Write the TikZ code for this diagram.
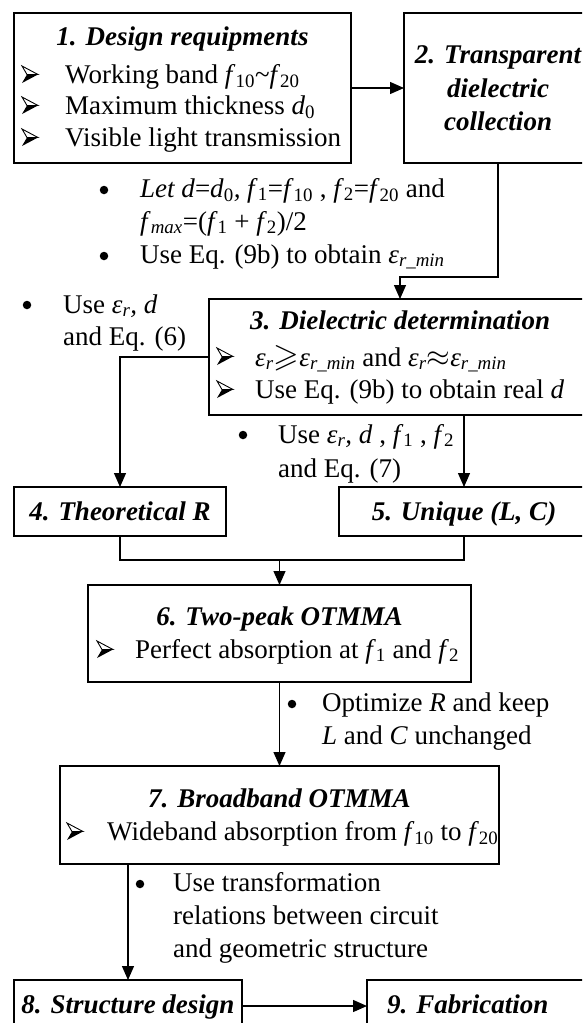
\documentclass[tikz,border=0pt]{standalone}
\usepackage{amssymb}
\usepackage{fontspec}
\setmainfont{Liberation Serif}
\usetikzlibrary{arrows.meta,calc}
\newcommand{\fsub}[1]{\textit{f}\textsubscript{#1}}
\newcommand{\epsr}{\textit{ε}\textsubscript{\textit{r}}}
\newcommand{\epsmin}{\textit{ε}\textsubscript{\textit{r\_min}}}
\newcommand{\bigrel}[1]{\smash{\scalebox{1.22}{$#1$}}}
\begin{document}
\begin{tikzpicture}[x=1pt,y=-1pt,
  font=\fontsize{27}{31}\selectfont,
  box/.style={draw, line width=1.5pt, inner sep=0pt, outer sep=0pt},
  txt/.style={inner sep=0pt, anchor=base west},
  ttl/.style={inner sep=0pt, anchor=base, font=\fontsize{27}{31}\selectfont\bfseries\itshape},
  bul/.style={circle, fill, inner sep=0pt, minimum size=8.5pt},
  amk/.pic={
    \draw[line width=0.9pt, line join=miter] (0,-17) -- (16,-8.5) -- (5,-8.5) -- cycle;
    \fill[line join=miter] (5,-8.5) -- (16,-8.5) -- (0,0) -- cycle;},
  conn/.style={line width=1.3pt},
  arr/.style={conn, -{Triangle[length=14pt,width=12pt]}}]
\useasboundingbox (0,0) rectangle (582,1023);
\clip (0,0) rectangle (582,1023);
% boxes
\node[box, minimum width=337pt, minimum height=150pt] (b1) at (182.5,88) {};
\node[box, minimum width=188pt, minimum height=150pt] (b2) at (498,88) {};
\node[box, minimum width=382pt, minimum height=116pt] (b3) at (400,357) {};
\node[box, minimum width=212pt, minimum height=49pt] (b4) at (120,511.5) {};
\node[box, minimum width=250pt, minimum height=49pt] (b5) at (464,511.5) {};
\node[box, minimum width=383pt, minimum height=97pt] (b6) at (279.5,633.5) {};
\node[box, minimum width=439pt, minimum height=98pt] (b7) at (279.5,815) {};
\node[box, minimum width=228pt, minimum height=52pt] (b8) at (128,1006) {};
\node[box, minimum width=233pt, minimum height=52pt] (b9) at (483.5,1006) {};
% box 1 text
\node[ttl] (t1) at (182.5,45) {1. Design requipments};
\pic at (22,83) {amk};
\node[txt] (t1a) at (65,83) {Working band \fsub{10}\textasciitilde\fsub{20}};
\pic at (22,114) {amk};
\node[txt] (t1b) at (65,114) {Maximum thickness \textit{d}\textsubscript{0}};
\pic at (22,146) {amk};
\node[txt] (t1c) at (65,146) {Visible light transmission};
% box 2 text
\node[ttl] (t2a) at (498,63) {2. Transparent};
\node[ttl] (t2b) at (498,97) {dielectric};
\node[ttl] (t2c) at (498,130) {collection};
% note below box 1
\node[bul] (n1d1) at (104,190) {};
\node[txt] (n1a) at (140,197) {\textit{Let d}=\textit{d}\textsubscript{0}\textit{, }\fsub{1}=\fsub{10} , \fsub{2}=\fsub{20} and};
\node[txt] (n1b) at (140,230) {\textit{f}\textsubscript{\textit{max}}=(\fsub{1} + \fsub{2})/2};
\node[bul] (n1d2) at (104,256) {};
\node[txt] (n1c) at (140,263) {Use Eq. (9b) to obtain \epsmin};
% left note
\node[bul] (n2d) at (27,305) {};
\node[txt] (n2a) at (63,313) {Use \epsr\textit{, d}};
\node[txt] (n2b) at (63,345) {and Eq. (6)};
% box 3 text
\node[ttl] (t3) at (400,329) {3. Dielectric determination};
\pic at (217,365) {amk};
\node[txt] (t3a) at (255,366) {\epsr\bigrel{\geqslant}\epsmin\ and \epsr\bigrel{\approx}\epsmin};
\pic at (217,398) {amk};
\node[txt] (t3b) at (255,398) {Use Eq. (9b) to obtain real \textit{d}};
% note below box 3
\node[bul] (n3d) at (243,435) {};
\node[txt] (n3a) at (278,443) {Use \epsr\textit{, d} , \fsub{1} , \fsub{2}};
\node[txt] (n3b) at (278,477) {and Eq. (7)};
% boxes 4, 5
\node[ttl] (t4) at (120,520) {4. Theoretical R};
\node[ttl] (t5) at (464,520) {5. Unique (L, C)};
% box 6
\node[ttl] (t6) at (279.5,625) {6. Two-peak OTMMA};
\pic at (97,658) {amk};
\node[txt] (t6a) at (135,658) {Perfect absorption at \fsub{1} and \fsub{2}};
% note below box 6
\node[bul] (n4d) at (292,704) {};
\node[txt] (n4a) at (322,711) {Optimize \textit{R} and keep};
\node[txt] (n4b) at (322,744) {\textit{L} and \textit{C} unchanged};
% box 7
\node[ttl] (t7) at (279.5,807) {7. Broadband OTMMA};
\pic at (67,840) {amk};
\node[txt] (t7a) at (107,840) {Wideband absorption from \fsub{10} to \fsub{20}};
% note below box 7
\node[bul] (n5d) at (140,884) {};
\node[txt] (n5a) at (173,891) {Use transformation};
\node[txt] (n5b) at (173,924) {relations between circuit};
\node[txt] (n5c) at (173,957) {and geometric structure};
% boxes 8, 9
\node[ttl] (t8) at (128,1013) {8. Structure design};
\node[ttl, anchor=base west] (t9) at (387,1013) {9. Fabrication};
% connectors
\coordinate (k2) at (400,277);
\coordinate (m45) at (279.5,560);
\draw[arr] (b1.east) -- (b2.west);
\draw[arr] (b2.south) |- (k2) -- (b3.north);
\draw[arr] (b3.west) -| (b4.north);
\draw[arr] (b3.south -| b5.north) -- (b5.north);
\draw[conn] (b4.south) |- (m45) -| (b5.south);
\draw[arr] (m45) -- (b6.north);
\draw[arr] (b6.south) -- (b7.north);
\draw[arr] (b7.south -| b8.north) -- (b8.north);
\draw[arr] (b8.east) -- (b9.west);
\end{tikzpicture}
\end{document}
